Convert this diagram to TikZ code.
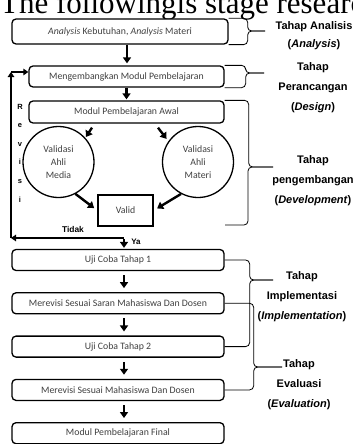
\documentclass[tikz,border=0pt]{standalone}
\usepackage{fontspec}
\setmainfont{Carlito}
\newfontfamily\lblfont{Liberation Sans}
\newfontfamily\ttlfont{Liberation Serif}
\usetikzlibrary{arrows.meta,positioning}

\begin{document}
\begin{tikzpicture}[x=1pt,y=-1pt,
                box/.style = {draw, rounded corners=4pt, line width=1.3pt, minimum height=21pt, fill=white,
                              font=\fontsize{9.8}{12}\selectfont, text=black!75},
                circ/.style = {draw, circle, line width=1.3pt, minimum size=71pt, align=center,
                               font=\fontsize{9.8}{13}\selectfont, text=black!75},
                lbl/.style = {align=center, font=\lblfont\bfseries\fontsize{11}{20}\selectfont},
                arr/.style = {line width=2.4pt, -{Triangle[width=8pt,length=6pt]}},
                rev/.style = {line width=2pt, -{Triangle[width=6.5pt,length=5pt]}},
                brc/.style = {line width=0.8pt, rounded corners=4pt}]
                \useasboundingbox (0,0) rectangle (353,444);
                \clip (0,0) rectangle (353,444);
                \node[anchor=base west, inner sep=0pt, font=\ttlfont\fontsize{31}{31}\selectfont] (ttl) at (0,13.5) {The followingis stage research};
                \node[box, minimum width=216pt, minimum height=25pt] (b1) at (120,31.5) {\textit{Analysis} Kebutuhan, \textit{Analysis} Materi};
                \node[box, minimum width=195pt] (b2) at (126.5,76.5) {Mengembangkan Modul Pembelajaran};
                \node[box, minimum width=195pt, minimum height=22pt] (b3) at (126.5,112) {Modul Pembelajaran Awal};
                \node[circ] (vm) at (58.5,162) {Validasi\\Ahli\\Media};
                \node[circ] (vt) at (198,162) {Validasi\\Ahli\\Materi};
                \node[box, rounded corners=0pt, minimum width=55pt, minimum height=31pt] (val) at (125.5,210.5) {Valid};
                \node[box, minimum width=212pt] (u1) at (118,260) {Uji Coba Tahap 1};
                \node[box, minimum width=212pt] (m1) [below=21pt of u1] {Merevisi Sesuai Saran Mahasiswa Dan Dosen};
                \node[box, minimum width=212pt] (u2) [below=21pt of m1] {Uji Coba Tahap 2};
                \node[box, minimum width=212pt] (m2) [below=21pt of u2] {Merevisi Sesuai Mahasiswa Dan Dosen};
                \node[box, minimum width=212pt] (fin) [below=21pt of m2] {Modul Pembelajaran Final};
                \node[lbl, font=\lblfont\bfseries\fontsize{11}{18.5}\selectfont] (l1) at (314,35.5) {Tahap Analisis\\(\textit{Analysis})};
                \node[lbl] (l2) at (313,88) {Tahap\\Perancangan\\(\textit{Design})};
                \node[lbl] (l3) at (313,181) {Tahap\\pengembangan\\(\textit{Development})};
                \node[lbl] (l4) at (302,297) {Tahap\\Implementasi\\(\textit{Implementation})};
                \node[lbl] (l5) at (299,385) {Tahap\\Evaluasi\\(\textit{Evaluation})};
                \node[font=\lblfont\bfseries\fontsize{7.5}{18.6}\selectfont, align=center] (rvs) at (20,153) {R\\e\\v\\i\\s\\i};
                \node[font=\lblfont\bfseries\fontsize{8.4}{10}\selectfont] (tdk) at (73,229) {Tidak};
                \node[font=\lblfont\bfseries\fontsize{8}{10}\selectfont] (ya) at (136,242) {Ya};
                \coordinate (dec) at (124,238);
                \coordinate (rv1) at (11,238);
                \coordinate (rv2) at (11,72);
                \coordinate (d3) at (225,225);
                \coordinate (t1) at (265,31);
                \coordinate (t2) at (264,73);
                \coordinate (t3) at (273,167);
                \coordinate (t4) at (273,280);
                \coordinate (t5) at (282,367);
                \draw[arr, shorten >=2pt] ([xshift=7pt]b1.south) -- ([xshift=.5pt]b2.north);
                \draw[arr, shorten >=1pt] (b2) -- (b3);
                \draw[arr, shorten >=1pt] ([xshift=-34.5pt,yshift=-4pt]b3.south) -- (vm.42);
                \draw[arr, shorten >=3pt] ([xshift=31.5pt,yshift=-4pt]b3.south) -- (vt.145);
                \draw[arr, shorten >=4pt] (vm.-62) -- (val.west);
                \draw[arr, shorten >=4pt] (vt.-118) -- (val.east);
                \draw[rev] (dec) -- (rv1);
                \draw[rev] (rv1) -- (rv2);
                \draw[rev] (rv2) -- (rv2 -| b2.west);
                \draw[arr, shorten <=1pt, shorten >=1pt] (dec) -- (dec |- u1.north);
                \draw[arr, shorten <=4pt, shorten >=4pt] ([xshift=6pt]u1.south) -- ([xshift=6pt]m1.north);
                \draw[arr, shorten <=4pt, shorten >=4pt] ([xshift=6pt]m1.south) -- ([xshift=6pt]u2.north);
                \draw[arr, shorten <=4pt, shorten >=4pt] ([xshift=6pt]u2.south) -- ([xshift=6pt]m2.north);
                \draw[arr, shorten <=4pt, shorten >=4pt] ([xshift=6pt]m2.south) -- ([xshift=6pt]fin.north);
                \draw[brc] (b1.north east) -- ++(19,0) |- (t1);
                \draw[brc] (b1.south east) -- ++(19,0) |- (t1);
                \draw[brc] (b2.north east) -- ++(21,0) |- (t2);
                \draw[brc] (b2.south east) -- ++(21,0) |- (t2);
                \draw[brc] (b3.north east) -- ++(24,0) |- (t3);
                \draw[brc] (d3) -- ++(23,0) |- (t3);
                \draw[brc] (u1.east) -- ++(25,0) |- (t4);
                \draw[brc] (u2.east) -- ++(25,0) |- (t4);
                \draw[brc] (m1.east) -- ++(29,0) |- (t5);
                \draw[brc] (m2.east) -- ++(29,0) |- (t5);
\end{tikzpicture}
\end{document}
